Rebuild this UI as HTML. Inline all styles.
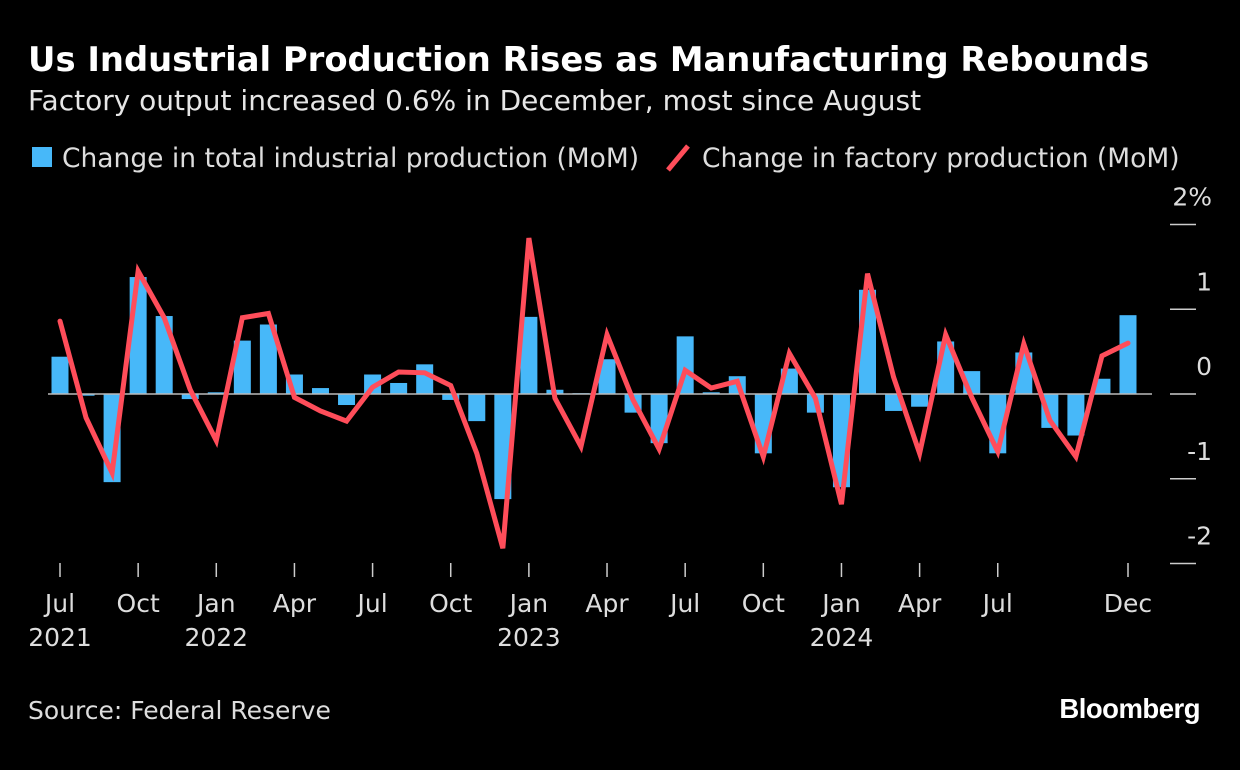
<!DOCTYPE html>
<html><head><meta charset="utf-8"><style>
body{margin:0;background:#000;width:1240px;height:770px;overflow:hidden;font-family:"DejaVu Sans",sans-serif;color:#fff}
#t{position:absolute;left:28px;top:40px;font-size:33.8px;font-weight:bold;white-space:nowrap}
#s{position:absolute;left:28px;top:84px;font-size:28px;color:#e6e6e6;white-space:nowrap}
.src{position:absolute;left:28px;top:696px;font-size:25px;color:#ddd}
.bb{position:absolute;right:40px;top:693px;font-size:27.5px;font-weight:bold;letter-spacing:-0.5px;font-family:"Liberation Sans",sans-serif}
svg text{font-family:"DejaVu Sans",sans-serif;fill:#ddd}
</style></head><body>
<div id="t">Us Industrial Production Rises as Manufacturing Rebounds</div>
<div id="s">Factory output increased 0.6% in December, most since August</div>
<svg id="c" width="1240" height="770" style="position:absolute;left:0;top:0">
<g>
<rect x="32" y="147" width="20" height="20" fill="#47b8f9"/>
<text x="62" y="167" font-size="26.5">Change in total industrial production (MoM)</text>
<line x1="668" y1="170" x2="688" y2="146" stroke="#ff4d5a" stroke-width="5"/>
<text x="702" y="167" font-size="26.5">Change in factory production (MoM)</text>
</g>
</svg>
<div class="src">Source: Federal Reserve</div>
<div class="bb">Bloomberg</div>
<script>
const total=[0.44,-0.02,-1.04,1.38,0.92,-0.06,0.02,0.63,0.82,0.23,0.07,-0.13,0.23,0.13,0.35,-0.07,-0.32,-1.24,0.91,0.05,0.01,0.41,-0.22,-0.58,0.68,0.02,0.21,-0.7,0.3,-0.22,-1.1,1.23,-0.2,-0.15,0.62,0.27,-0.7,0.49,-0.4,-0.49,0.18,0.93];
const factory=[0.86,-0.28,-0.93,1.45,0.9,0.05,-0.55,0.9,0.95,-0.04,-0.2,-0.32,0.08,0.26,0.25,0.1,-0.7,-1.82,1.84,-0.05,-0.62,0.7,-0.07,-0.65,0.28,0.07,0.15,-0.74,0.48,-0.05,-1.3,1.42,0.2,-0.7,0.7,-0.04,-0.68,0.59,-0.31,-0.74,0.45,0.6];
const yTicks=[2,1,0,-1,-2];
const yTickLabels=["2%","1","0","-1","-2"];
const xTickIdx=[0,3,6,9,12,15,18,21,24,27,30,33,36,41];
const xTickLabels=["Jul","Oct","Jan","Apr","Jul","Oct","Jan","Apr","Jul","Oct","Jan","Apr","Jul","Dec"];
const yearIdx=[0,6,18,30];
const yearLabels=["2021","2022","2023","2024"];
const svg=document.getElementById('c');const NS='http://www.w3.org/2000/svg';
const x=i=>60+i*(1128-60)/41;
const y=v=>394-v*84.75;
function mk(t,a){const e=document.createElementNS(NS,t);for(const k in a)e.setAttribute(k,a[k]);svg.appendChild(e);return e;}
yTicks.forEach((v,i)=>{
const l=mk('line',{x1:1170,x2:1196,y1:y(v),y2:y(v),stroke:'#ccc','stroke-width':1.5});


const t=mk('text',{x:1212,y:y(v)-19,'font-size':25,'text-anchor':'end'});t.textContent=yTickLabels[i];


});
total.forEach((v,i)=>{
const r=mk('rect',{x:x(i)-8.5,y:Math.min(y(v),y(0)),width:17,height:Math.abs(y(v)-y(0)),fill:'#47b8f9'});


});
const z=mk('line',{x1:48,x2:1152,y1:y(0),y2:y(0),stroke:'#bbb','stroke-width':1.5});


const p=mk('polyline',{points:factory.map((v,i)=>x(i)+','+y(v)).join(' '),fill:'none',stroke:'#ff4d5a','stroke-width':5,'stroke-linejoin':'miter','stroke-linecap':'round'});


xTickIdx.forEach((idx,i)=>{
const l=mk('line',{x1:x(idx),x2:x(idx),y1:563,y2:577,stroke:'#ccc','stroke-width':1.5});


const t=mk('text',{x:x(idx),y:612,'font-size':25,'text-anchor':'middle'});t.textContent=xTickLabels[i];


});
yearIdx.forEach((idx,i)=>{
const t=mk('text',{x:x(idx),y:646,'font-size':25,'text-anchor':'middle'});t.textContent=yearLabels[i];


});
</script>
</body></html>
